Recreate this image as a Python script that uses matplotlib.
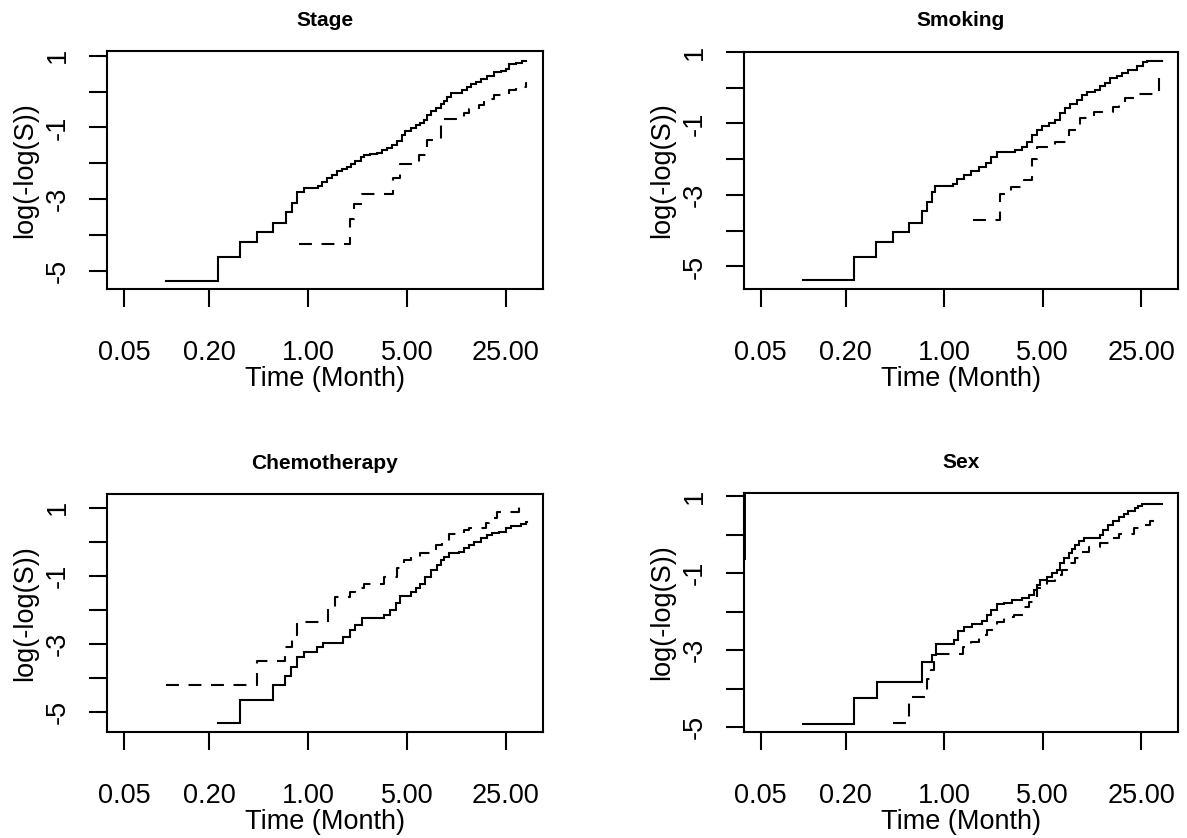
import matplotlib
matplotlib.use("Agg")
import matplotlib.pyplot as plt
from matplotlib.ticker import NullLocator, FixedLocator, FixedFormatter

plt.rcParams['font.family'] = ['Liberation Sans', 'DejaVu Sans']

# ---- data: log(-log(S)) step curves by group, time in months ----
stage_solid_t = [0.100, 0.233, 0.332, 0.436, 0.565, 0.698, 0.770, 0.836, 0.931, 1.17, 1.26, 1.36,
                 1.48, 1.60, 1.74, 1.89, 2.01, 2.16, 2.35, 2.48, 2.76, 3.08, 3.34, 3.62, 3.93, 4.26,
                 4.63, 4.88, 5.30, 5.75, 6.23, 6.58, 6.95, 7.34, 7.96, 8.64, 9.12, 9.63, 10.2, 11.6,
                 12.3, 13.3, 14.1, 15.3, 16.6, 18.5, 20.6, 23.0, 24.9, 26.3, 29.3, 32.7, 34.5]
stage_solid_y = [-5.28, -4.61, -4.19, -3.92, -3.68, -3.36, -3.10, -2.80, -2.70, -2.63, -2.52, -2.40,
                 -2.33, -2.22, -2.15, -2.10, -2.01, -1.93, -1.82, -1.76, -1.73, -1.71, -1.63, -1.59,
                 -1.49, -1.37, -1.22, -1.09, -1.03, -0.94, -0.87, -0.80, -0.66, -0.54, -0.45, -0.36,
                 -0.27, -0.16, -0.05, -0.03, 0.04, 0.12, 0.20, 0.26, 0.34, 0.43, 0.54, 0.57, 0.62,
                 0.77, 0.79, 0.85, 0.85]
stage_dash_t = [0.857, 1.97, 2.13, 2.41, 4.00, 4.50, 6.07, 6.95, 8.64, 12.6, 13.7, 16.1, 17.5,
                20.6, 26.3, 29.3, 34.5, 35.5]
stage_dash_y = [-4.26, -3.56, -3.14, -2.86, -2.42, -2.01, -1.77, -1.35, -0.77, -0.61, -0.50, -0.38,
                -0.22, -0.10, 0.04, 0.12, 0.23, 0.23]

smoke_solid_t = [0.0995, 0.231, 0.329, 0.431, 0.566, 0.695, 0.762, 0.826, 0.863, 1.15, 1.24, 1.38,
                 1.55, 1.77, 1.97, 2.14, 2.38, 3.21, 3.58, 3.88, 4.21, 4.57, 4.96, 5.53, 6.17, 6.69,
                 7.26, 7.87, 8.77, 9.51, 10.3, 11.8, 12.8, 13.9, 15.1, 16.8, 18.2, 20.3, 23.3, 26.0,
                 27.4, 35.0]
smoke_solid_y = [-5.38, -4.73, -4.31, -4.03, -3.79, -3.45, -3.21, -2.91, -2.74, -2.68, -2.54, -2.44,
                 -2.33, -2.21, -2.10, -1.95, -1.81, -1.75, -1.65, -1.51, -1.33, -1.19, -1.08, -1.00,
                 -0.89, -0.72, -0.58, -0.46, -0.33, -0.19, -0.12, -0.07, 0.04, 0.13, 0.26, 0.32,
                 0.41, 0.51, 0.60, 0.72, 0.75, 0.75]
smoke_dash_t = [1.60, 2.48, 2.96, 3.68, 4.21, 4.57, 6.17, 7.66, 9.27, 11.5, 15.9, 17.3, 19.3, 22.7,
                33.5, 35.0]
smoke_dash_y = [-3.70, -2.98, -2.77, -2.57, -1.98, -1.65, -1.51, -1.19, -0.86, -0.68, -0.54, -0.44,
                -0.30, -0.18, 0.26, 0.26]

chemo_solid_t = [0.233, 0.332, 0.565, 0.691, 0.758, 0.836, 0.931, 1.16, 1.28, 1.77, 1.99, 2.16,
                 2.41, 3.43, 3.82, 4.15, 4.50, 5.30, 5.75, 6.23, 6.76, 7.34, 8.18, 8.64, 9.12, 9.89,
                 11.6, 12.6, 13.7, 14.9, 16.6, 18.5, 20.0, 22.3, 24.9, 27.0, 31.8, 34.5, 35.5]
chemo_solid_y = [-5.32, -4.64, -4.22, -3.95, -3.69, -3.38, -3.23, -3.09, -2.97, -2.79, -2.60, -2.45,
                 -2.25, -2.16, -2.01, -1.81, -1.60, -1.47, -1.37, -1.24, -1.03, -0.83, -0.69, -0.54,
                 -0.44, -0.34, -0.29, -0.20, -0.10, 0.00, 0.10, 0.20, 0.25, 0.29, 0.39, 0.47, 0.52,
                 0.59, 0.59]
chemo_dash_t = [0.100, 0.436, 0.691, 0.770, 0.836, 1.385, 1.56, 1.99, 2.16, 2.48, 3.43, 4.26, 4.75,
                5.30, 6.23, 7.96, 8.88, 9.89, 12.6, 13.7, 18.0, 19.0, 21.7, 30.9, 32.7]
chemo_dash_y = [-4.21, -3.50, -3.09, -2.74, -2.35, -1.91, -1.62, -1.47, -1.37, -1.25, -1.03, -0.78,
                -0.54, -0.44, -0.32, -0.10, 0.00, 0.23, 0.34, 0.41, 0.54, 0.69, 0.86, 1.08, 1.08]

sex_solid_t = [0.0995, 0.231, 0.332, 0.695, 0.826, 0.873, 1.18, 1.26, 1.38, 1.59, 1.87, 2.02, 2.14,
               2.38, 2.66, 3.04, 3.58, 3.99, 4.33, 4.57, 4.83, 5.38, 5.84, 6.33, 6.69, 7.06, 7.66,
               8.09, 8.54, 9.01, 9.78, 12.8, 13.5, 14.5, 15.9, 17.3, 18.8, 20.3, 22.7, 23.9, 25.3, 35.0]
sex_solid_y = [-4.93, -4.24, -3.83, -3.31, -3.13, -2.83, -2.74, -2.50, -2.39, -2.32, -2.25, -2.09,
               -1.96, -1.80, -1.77, -1.70, -1.63, -1.57, -1.44, -1.31, -1.17, -1.09, -1.00, -0.91,
               -0.74, -0.59, -0.48, -0.37, -0.26, -0.17, -0.07, 0.00, 0.13, 0.26, 0.35, 0.46, 0.55,
               0.61, 0.70, 0.76, 0.81, 0.81]
sex_dash_t = [0.431, 0.560, 0.762, 0.805, 0.850, 1.36, 1.55, 1.77, 2.02, 2.38, 2.66, 3.13, 3.68,
              3.99, 4.57, 5.38, 6.17, 6.87, 7.45, 8.54, 9.51, 10.6, 12.8, 15.1, 17.3, 22.1, 26.0,
              29.0, 32.3, 33.5]
sex_dash_y = [-4.90, -4.22, -3.74, -3.51, -3.09, -2.92, -2.79, -2.61, -2.48, -2.26, -2.13, -2.09,
              -1.87, -1.74, -1.39, -1.19, -1.04, -0.91, -0.74, -0.61, -0.44, -0.32, -0.22, -0.09,
              0.03, 0.17, 0.26, 0.35, 0.41, 0.41]
# short segment lying on the left frame of the Sex panel
sex_edge_y = [1.09, -0.60]

titles = ["Stage", "Smoking", "Chemotherapy", "Sex"]
x_ticks = [0.05, 0.2, 1, 5, 25]
x_ticklabels = ["0.05", "0.20", "1.00", "5.00", "25.00"]
y_ticks = [-5, -4, -3, -2, -1, 0, 1]
y_ticklabels = ["-5", "", "-3", "", "-1", "", "1"]
x_label = "Time (Month)"
y_label = "log(-log(S))"

# ---- layout (pixel boxes: left, top, right, bottom) ----
W, H = 1187, 838
fig = plt.figure(figsize=(W / 100, H / 100), dpi=100)

boxes = [(107, 51, 543, 289), (744, 52, 1178, 289),
         (107, 494, 543, 732), (744, 493, 1178, 732)]
ylims = [(-5.51, 1.13), (-5.63, 1.0), (-5.59, 1.40), (-5.13, 1.09)]
xlim = (10 ** -1.42, 10 ** 1.66)

curves = [
    (stage_solid_t, stage_solid_y, stage_dash_t, stage_dash_y),
    (smoke_solid_t, smoke_solid_y, smoke_dash_t, smoke_dash_y),
    (chemo_solid_t, chemo_solid_y, chemo_dash_t, chemo_dash_y),
    (sex_solid_t, sex_solid_y, sex_dash_t, sex_dash_y),
]

LW = 1.5
FS = 19.5

for i, ((l, t, r, b), ylim, (st, sy, dt, dy), title) in enumerate(zip(boxes, ylims, curves, titles)):
    ax = fig.add_axes([l / W, 1 - b / H, (r - l) / W, (b - t) / H])
    ax.set_xscale('log')
    ax.set_xlim(*xlim)
    ax.set_ylim(*ylim)

    ax.plot(st, sy, drawstyle='steps-post', color='black', lw=LW, solid_joinstyle='miter')
    ax.plot(dt, dy, drawstyle='steps-post', color='black', lw=LW, linestyle=(0, (6.2, 4.6)))
    if title == "Sex":
        ax.plot([xlim[0], xlim[0]], sex_edge_y, color='black', lw=LW * 1.4, clip_on=False)

    ax.xaxis.set_major_locator(FixedLocator(x_ticks))
    ax.xaxis.set_major_formatter(FixedFormatter(x_ticklabels))
    ax.xaxis.set_minor_locator(NullLocator())
    ax.yaxis.set_major_locator(FixedLocator(y_ticks))
    ax.yaxis.set_major_formatter(FixedFormatter(y_ticklabels))
    ax.yaxis.set_minor_locator(NullLocator())

    ax.tick_params(direction='out', length=13, width=LW, labelsize=FS, color='black')
    ax.tick_params(axis='x', pad=24)
    ax.tick_params(axis='y', pad=13)
    for lab in ax.get_yticklabels():
        lab.set_rotation(90)
        lab.set_va('center')
    for sp in ax.spines.values():
        sp.set_linewidth(LW)
        sp.set_color('black')

    cx = (l + r) / 2
    fig.text(cx / W, 1 - (t - 31) / H, title, ha='center', va='center',
             fontsize=15, fontweight='bold')
    fig.text(cx / W, 1 - (b + 90) / H, x_label, ha='center', va='center', fontsize=FS)
    fig.text((l - 82) / W, 1 - ((t + b) / 2) / H, y_label, ha='center', va='center',
             rotation=90, fontsize=FS)

fig.savefig("out.png", dpi=100, facecolor='white')
